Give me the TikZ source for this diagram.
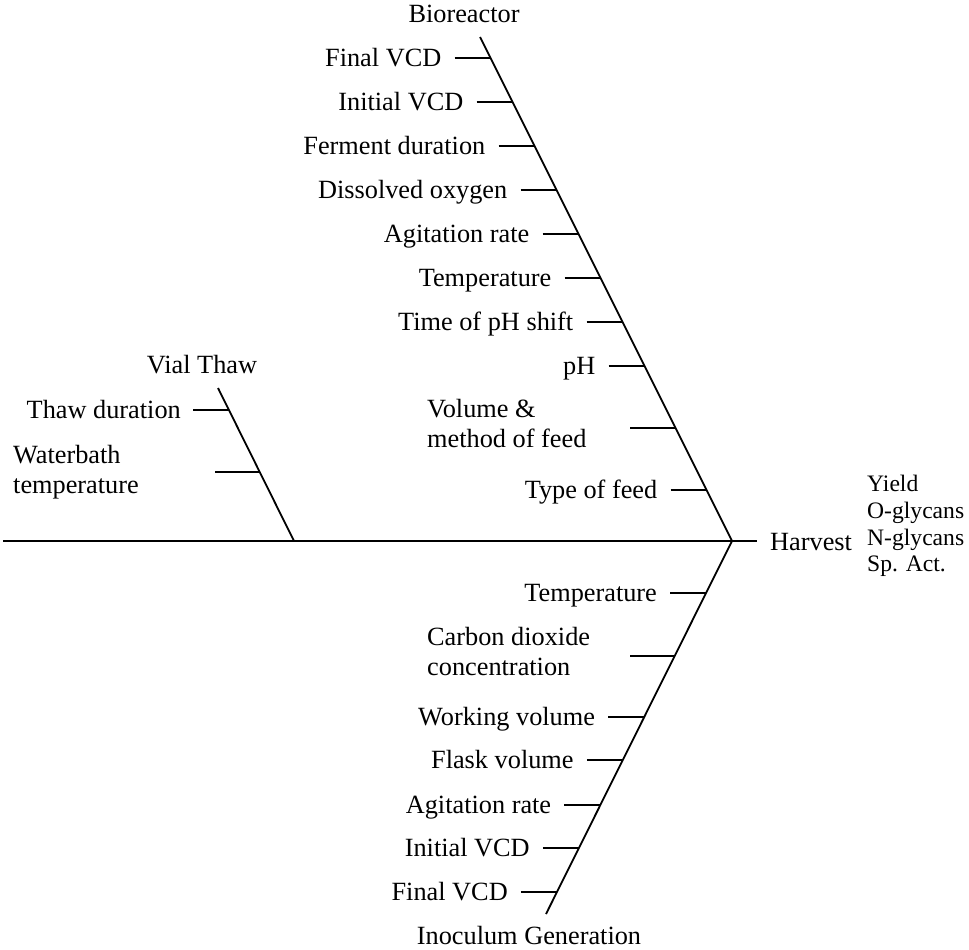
\documentclass[tikz,border=0pt]{standalone}
\usepackage{fontspec}
\setmainfont{Liberation Serif}
\begin{document}
\begin{tikzpicture}[x=1pt,y=-1pt,
  bone/.style={line width=1.8pt},
  lbl/.style={inner sep=0pt, font=\fontsize{26.3}{30}\selectfont},
  outlbl/.style={inner sep=0pt, align=left, font=\fontsize{23.6}{26.8}\selectfont}]
\useasboundingbox (0,0) rectangle (969,950);

% spine and main bones
\coordinate (spineL) at (3,541);
\coordinate (head) at (732,541);
\coordinate (spineR) at (757,541);
\coordinate (brTop) at (480,37);
\coordinate (inBot) at (546,914);
\coordinate (vtTop) at (218,388);
\coordinate (vtBot) at (294,541);
\draw[bone] (spineL) -- (spineR);
\draw[bone] (brTop) -- (head);
\draw[bone] (head) -- (inBot);
\draw[bone] (vtTop) -- (vtBot);

% category titles and effect
\node[lbl,anchor=base] (bioreactor) at (464,23) {Bioreactor};
\node[lbl,anchor=base] (vialthaw) at (202,373) {Vial Thaw};
\node[lbl,anchor=base] (inoculum) at (529,944) {Inoculum Generation};
\node[lbl,anchor=base west] (harvest) at (770,550) {Harvest};
\node[outlbl,anchor=north west] (outputs) at (867,475) {Yield\\O-glycans\\N-glycans\\Sp. Act.};

% Bioreactor causes
\foreach \i/\y/\t in {1/58/Final VCD,2/102/Initial VCD,3/146/Ferment duration,
  4/190/Dissolved oxygen,5/234/Agitation rate,6/278/Temperature,
  7/322/Time of pH shift,8/366/pH,10/490/Type of feed}{
  \pgfmathsetmacro\xe{480+(\y-37)*0.5}
  \coordinate (br\i e) at (\xe,\y);
  \coordinate (br\i s) at (\xe-36,\y);
  \node[lbl,anchor=base east] (br\i) at (\xe-49,\y+8.5) {\t};
  \draw[bone] (br\i s) -- (br\i e);
}
\coordinate (br9e) at (675.5,428);
\coordinate (br9s) at (630,428);
\node[lbl,anchor=north west,align=left] (br9) at (427,399) {Volume \&\\method of feed};
\draw[bone] (br9s) -- (br9e);

% Inoculum Generation causes
\foreach \i/\y/\t in {1/593/Temperature,3/717/Working volume,4/760/Flask volume,
  5/805/Agitation rate,6/848/Initial VCD,7/892/Final VCD}{
  \pgfmathsetmacro\xe{732-(\y-541)*0.4987}
  \coordinate (in\i e) at (\xe,\y);
  \coordinate (in\i s) at (\xe-36,\y);
  \node[lbl,anchor=base east] (in\i) at (\xe-49,\y+8.5) {\t};
  \draw[bone] (in\i s) -- (in\i e);
}
\coordinate (in2e) at (674.6,656);
\coordinate (in2s) at (630,656);
\node[lbl,anchor=north west,align=left] (in2) at (427,627) {Carbon dioxide\\concentration};
\draw[bone] (in2s) -- (in2e);

% Vial Thaw causes
\coordinate (vt1e) at (229,410);
\coordinate (vt1s) at (193,410);
\node[lbl,anchor=base east] (vt1) at (181,418.5) {Thaw duration};
\draw[bone] (vt1s) -- (vt1e);
\coordinate (vt2e) at (259.7,472);
\coordinate (vt2s) at (215,472);
\node[lbl,anchor=north west,align=left] (vt2) at (13,445) {Waterbath\\temperature};
\draw[bone] (vt2s) -- (vt2e);
\end{tikzpicture}
\end{document}
